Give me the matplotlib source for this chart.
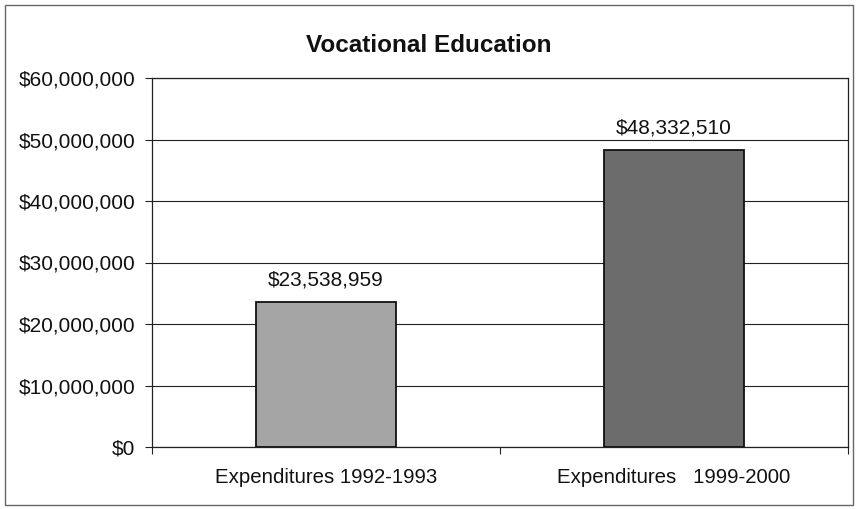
import matplotlib
matplotlib.use("Agg")
import matplotlib.pyplot as plt
from matplotlib.patches import Rectangle
from matplotlib.ticker import FuncFormatter, FixedLocator

plt.rcParams['font.family'] = ['Liberation Sans', 'DejaVu Sans']

title = "Vocational Education"
categories = ["Expenditures 1992-1993", "Expenditures   1999-2000"]
values = [23538959, 48332510]
bar_colors = ["#a5a5a5", "#6c6c6c"]
y_ticks = [0, 10000000, 20000000, 30000000, 40000000, 50000000, 60000000]

fig = plt.figure(figsize=(8.57, 5.09), dpi=100)
fig.patch.set_facecolor("white")
ax = fig.add_axes([152/857, 62/509, 696/857, 369/509])

x = list(range(len(categories)))
bars = ax.bar(x, values, width=0.40, color=bar_colors, edgecolor="#111111",
              linewidth=1.3, zorder=3)

ax.set_xlim(-0.5, len(categories) - 0.5)
ax.set_ylim(0, 60000000)
ax.set_yticks(y_ticks)
ax.yaxis.set_major_formatter(FuncFormatter(lambda v, p: "${:,.0f}".format(v)))
ax.yaxis.grid(True, color="#222222", linewidth=0.8, zorder=0)
ax.set_axisbelow(True)

ax.set_xticks(x)
ax.set_xticklabels(categories)
ax.xaxis.set_minor_locator(FixedLocator([i - 0.5 for i in range(len(categories) + 1)]))
ax.tick_params(axis="x", which="major", length=0, pad=15, labelsize=14.7, labelcolor="#111111")
ax.tick_params(axis="x", which="minor", length=5, width=0.8, direction="out", color="#222222")
ax.tick_params(axis="y", length=5, width=0.8, direction="out", pad=7, labelsize=15,
               labelcolor="#111111", color="#222222")

for side in ["left", "bottom", "right", "top"]:
    ax.spines[side].set_color("#222222")
    ax.spines[side].set_linewidth(0.9)

for b, v in zip(bars, values):
    ax.annotate("${:,.0f}".format(v), (b.get_x() + b.get_width() / 2, v),
                xytext=(0, 9), textcoords="offset points", ha="center", va="bottom",
                fontsize=15, color="#111111")

fig.text(0.5, 1 - 46/509, title, ha="center", va="center", fontsize=17.5,
         fontweight="bold", color="#111111")

fig.patches.append(Rectangle((5/857, 4/509), 848/857, 500/509, transform=fig.transFigure,
                             fill=False, edgecolor="#666666", linewidth=1.0))

fig.savefig("out.png", dpi=100, facecolor="white")
